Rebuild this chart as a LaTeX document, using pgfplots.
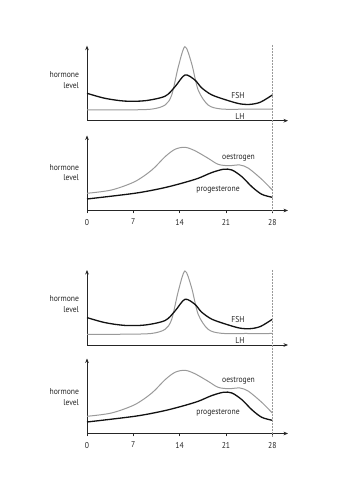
\documentclass[border=0pt]{standalone}
\usepackage{fontspec}
\setmainfont{PT Sans}[FakeStretch=0.9]
\usepackage{pgfplots}
\usepackage{pgfplotstable}
\pgfplotsset{compat=1.18}
\usetikzlibrary{arrows.meta}
\definecolor{lg}{HTML}{9A9A9A}
\definecolor{dk}{HTML}{121212}
\definecolor{ax}{HTML}{262626}

\pgfplotstableread{
day val
0    27.4
2.7  22.4
5.7  19.6
8.8  20.0
11.8 24.5
13.3 34.0
14.8 45.7
16.3 40.7
17.3 33.0
18.8 26.0
20.9 21.0
23.0 17.0
24.6 16.3
26.2 18.5
28.0 25.7
}\fsh
\pgfplotstableread{
day val
0    10.7
6.0  10.8
9.8  11.6
11.8 15.7
12.8 25.7
13.8 54.0
14.8 74.0
15.8 57.4
16.8 30.7
18.3 15.7
20.3 11.7
24.0 11.5
28.0 11.5
}\lh
\pgfplotstableread{
day val
0    17.2
3.7  20.5
7.2  28.8
9.8  40.5
11.8 53.8
13.3 61.2
14.8 63.2
16.3 59.8
18.3 52.2
19.8 46.2
21.4 44.8
23.1 45.5
24.4 42.2
26.4 31.2
28.0 20.5
}\oes
\pgfplotstableread{
day val
0    11.5
7.2  17.2
11.3 22.2
14.3 27.2
16.8 32.2
18.8 37.8
20.6 41.2
21.9 40.5
23.4 33.8
24.9 23.8
26.4 16.2
28.0 13.2
}\prog

\pgfplotsset{panel/.style={
  scale only axis, width=201pt, height=75pt,
  xmin=0, xmax=30.37, ymin=0, ymax=75, enlargelimits=false,
  axis x line=bottom, axis y line=left,
  axis line style={ax, line width=0.7pt, -{Stealth[length=4.5pt,width=3.6pt]}},
  ytick=\empty, xtick=\empty, clip=false, anchor=south west,
  tick align=outside, major tick length=3pt,
  tick style={ax, line width=0.6pt},
  xticklabel style={font=\fontsize{8.5}{9}\selectfont, text=ax, yshift=-2pt},
  /pgf/number format/assume math mode=true,
}}
\newcommand{\lab}{\fontsize{8.5}{10.5}\selectfont}

\begin{document}
\begin{tikzpicture}[x=1pt,y=1pt]
\path[use as bounding box, fill=white] (0,0) rectangle (353,500);

% top pair
\begin{axis}[panel, at={(87pt,379.3pt)}]
\addplot[lg, line width=1pt, smooth] table[x=day,y=val] {\lh};
\addplot[dk, line width=1.3pt, smooth] table[x=day,y=val] {\fsh};
\node[font=\lab, text=ax] at (axis cs:22.8,25) {FSH};
\node[font=\lab, text=ax] at (axis cs:23.1,4.4) {LH};
\end{axis}
\begin{axis}[panel, at={(87pt,289.5pt)}, xtick={0,7,14,21,28}]
\addplot[lg, line width=1pt, smooth] table[x=day,y=val] {\oes};
\addplot[dk, line width=1.3pt, smooth] table[x=day,y=val] {\prog};
\node[font=\lab, text=ax] at (axis cs:22.9,52.8) {oestrogen};
\node[font=\lab, text=ax] at (axis cs:19.8,21.2) {progesterone};
\end{axis}

% bottom pair
\begin{axis}[panel, at={(87pt,155pt)}]
\addplot[lg, line width=1pt, smooth] table[x=day,y=val] {\lh};
\addplot[dk, line width=1.3pt, smooth] table[x=day,y=val] {\fsh};
\node[font=\lab, text=ax] at (axis cs:22.8,25) {FSH};
\node[font=\lab, text=ax] at (axis cs:23.1,4.4) {LH};
\end{axis}
\begin{axis}[panel, at={(87pt,66.5pt)}, xtick={0,7,14,21,28}]
\addplot[lg, line width=1pt, smooth] table[x=day,y=val] {\oes};
\addplot[dk, line width=1.3pt, smooth] table[x=day,y=val] {\prog};
\node[font=\lab, text=ax] at (axis cs:22.9,52.8) {oestrogen};
\node[font=\lab, text=ax] at (axis cs:19.8,21.2) {progesterone};
\end{axis}

% dashed day-28 lines
\draw[lg, dash pattern=on 1.8pt off 1.2pt, line width=0.6pt] (272.3,455) -- (272.3,287);
\draw[lg, dash pattern=on 1.8pt off 1.2pt, line width=0.6pt] (272.3,230) -- (272.3,63);

% y labels
\node[font=\lab, text=ax, anchor=east, align=right] at (82.5,420) {hormone\\level};
\node[font=\lab, text=ax, anchor=east, align=right] at (82.5,327.2) {hormone\\level};
\node[font=\lab, text=ax, anchor=east, align=right] at (82.5,196) {hormone\\level};
\node[font=\lab, text=ax, anchor=east, align=right] at (82.5,102.8) {hormone\\level};
\end{tikzpicture}
\end{document}
